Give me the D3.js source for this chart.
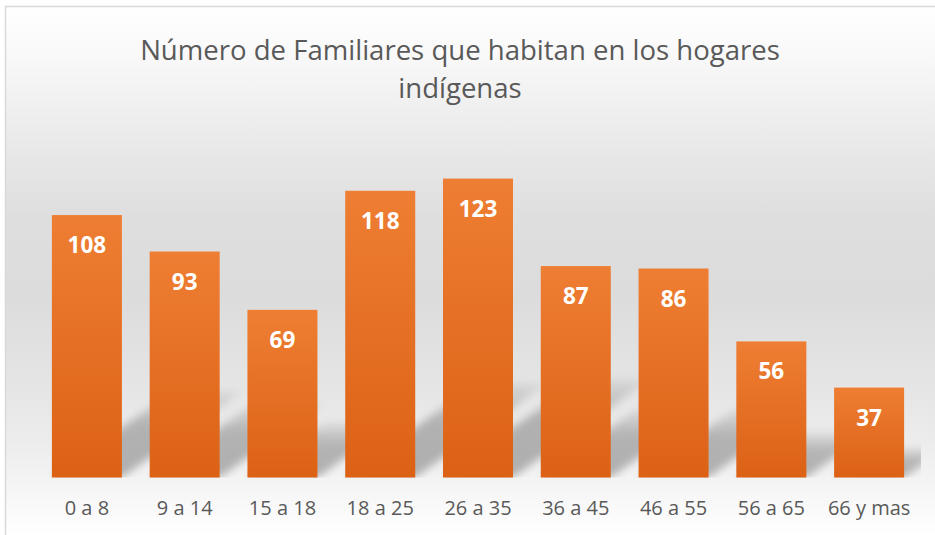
<!DOCTYPE html>
<html>
<head>
<meta charset="utf-8">
<script src="https://cdn.jsdelivr.net/npm/d3@7"></script>
<style>
  body { margin: 0; background: #fff; }
  svg { display: block; }
</style>
</head>
<body>
<div id="chart"></div>
<script>
// Data
const categories = ['0 a 8', '9 a 14', '15 a 18', '18 a 25', '26 a 35', '36 a 45', '46 a 55', '56 a 65', '66 y mas'];
const values = [108, 93, 69, 118, 123, 87, 86, 56, 37];
const titleLines = ['Número de Familiares que habitan en los hogares', 'indígenas'];

// SVG setup
const width = 935;
const height = 535;
const svg = d3.select('#chart')
    .append('svg')
    .attr('width', width)
    .attr('height', height);

const defs = svg.append('defs');

// Chart background: white at the top, grey in the middle, white at the bottom
const bgGrad = defs.append('linearGradient')
    .attr('id', 'bg-grad')
    .attr('gradientUnits', 'userSpaceOnUse')
    .attr('x1', 0).attr('y1', 6).attr('x2', 0).attr('y2', height);
[[0, '#ffffff'], [0.1, '#f8f8f8'], [0.24, '#ebebeb'], [0.4, '#dedede'], [0.55, '#dcdcdc'],
 [0.7, '#e4e4e4'], [0.82, '#ececec'], [0.9, '#f4f4f4'], [1, '#ffffff']]
    .forEach(([o, c]) => bgGrad.append('stop').attr('offset', o).attr('stop-color', c));

// Bar fill gradient
const barGrad = defs.append('linearGradient')
    .attr('id', 'bar-grad')
    .attr('x1', 0).attr('y1', 0).attr('x2', 0).attr('y2', 1);
barGrad.append('stop').attr('offset', 0).attr('stop-color', '#ee7e33');
barGrad.append('stop').attr('offset', 1).attr('stop-color', '#dc6115');

// Shadow fades out towards its top
const shadowGrad = defs.append('linearGradient')
    .attr('id', 'shadow-grad')
    .attr('x1', 0).attr('y1', 1).attr('x2', 0).attr('y2', 0);
shadowGrad.append('stop').attr('offset', 0).attr('stop-color', '#000').attr('stop-opacity', 0.28);
shadowGrad.append('stop').attr('offset', 0.6).attr('stop-color', '#000').attr('stop-opacity', 0.24);
shadowGrad.append('stop').attr('offset', 1).attr('stop-color', '#000').attr('stop-opacity', 0.05);

// Blur for the floor shadows
defs.append('filter')
    .attr('id', 'shadow-blur')
    .attr('x', '-50%').attr('y', '-50%').attr('width', '200%').attr('height', '200%')
    .append('feGaussianBlur')
    .attr('stdDeviation', 4);

svg.append('rect')
    .attr('x', 5.5)
    .attr('y', 6.5)
    .attr('width', width)
    .attr('height', height)
    .attr('fill', 'url(#bg-grad)')
    .attr('stroke', '#d9d9d9')
    .attr('stroke-width', 1.5);

// Scales
const x = d3.scaleBand()
    .domain(categories)
    .range([38, 918])
    .paddingInner(0.284)
    .paddingOuter(0.142);

const y = d3.scaleLinear()
    .domain([0, 140])
    .range([477.5, 137.3]);

const base = y(0);

// Clip the shadows to the plot area
defs.append('clipPath')
    .attr('id', 'plot-clip')
    .append('rect')
    .attr('x', x.range()[0])
    .attr('y', y.range()[1])
    .attr('width', x.range()[1] - x.range()[0] + 3)
    .attr('height', base - y.range()[1]);

// Perspective shadows behind each bar
const shadowGroup = svg.append('g')
    .attr('clip-path', 'url(#plot-clip)')
    .append('g')
    .attr('filter', 'url(#shadow-blur)');

const skew = 1.4;
shadowGroup.selectAll('polygon')
    .data(values)
    .join('polygon')
    .attr('points', (d, i) => {
        const x0 = x(categories[i]);
        const x1 = x0 + x.bandwidth();
        const h = (base - y(d)) * 0.33;
        return [[x0, base], [x1, base], [x1 + h * skew, base - h], [x0 + h * skew, base - h]]
            .map(p => p.join(',')).join(' ');
    })
    .attr('fill', 'url(#shadow-grad)');

// Bars
svg.append('g').selectAll('rect')
    .data(values)
    .join('rect')
    .attr('x', (d, i) => x(categories[i]))
    .attr('y', d => y(d))
    .attr('width', x.bandwidth())
    .attr('height', d => base - y(d))
    .attr('fill', 'url(#bar-grad)');

// Data labels
svg.append('g').selectAll('text')
    .data(values)
    .join('text')
    .attr('x', (d, i) => x(categories[i]) + x.bandwidth() / 2)
    .attr('y', d => y(d) + 38)
    .attr('text-anchor', 'middle')
    .attr('font-family', '"Open Sans", sans-serif')
    .attr('font-weight', 'bold')
    .attr('font-size', 22.5)
    .attr('fill', '#ffffff')
    .text(d => d);

// Category axis (labels only, no line)
const xAxis = svg.append('g')
    .attr('transform', `translate(0,${base})`)
    .call(d3.axisBottom(x).tickSize(0).tickPadding(23));
xAxis.select('.domain').remove();
xAxis.selectAll('text')
    .attr('font-family', '"Open Sans", sans-serif')
    .attr('font-size', 20)
    .attr('fill', '#595959');

// Title
const title = svg.append('text')
    .attr('text-anchor', 'middle')
    .attr('font-family', '"Open Sans", sans-serif')
    .attr('font-size', 26)
    .attr('fill', '#595959');
title.selectAll('tspan')
    .data(titleLines)
    .join('tspan')
    .attr('x', 460)
    .attr('y', (d, i) => 60 + i * 38)
    .text(d => d);

// Fit the first title line to the width it takes in the original
const firstLine = title.select('tspan').node();
const len = firstLine.getComputedTextLength();
if (len > 0) title.attr('font-size', 26 * 640 / len);
</script>
</body>
</html>
